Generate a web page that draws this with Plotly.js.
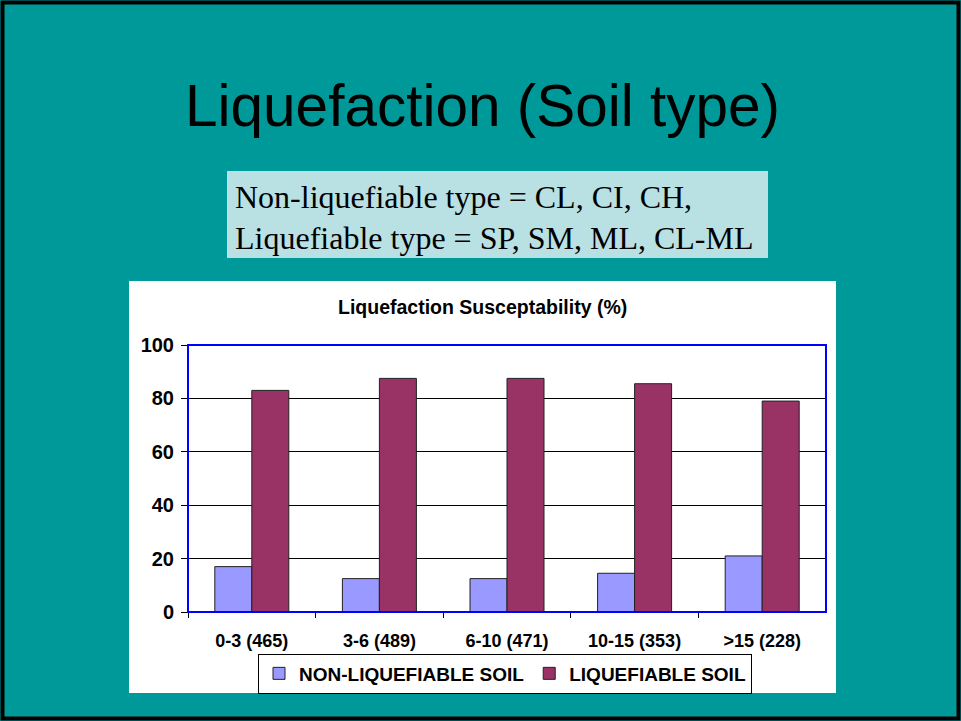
<!DOCTYPE html>
<html><head><meta charset="utf-8">
<script src="https://cdn.plot.ly/plotly-3.0.1.min.js"></script>
<style>html,body{margin:0;padding:0;background:#009999;}#c{width:961px;height:721px;}</style>
</head><body><div id="c"></div>
<script>
const categories = ["0-3 (465)", "3-6 (489)", "6-10 (471)", "10-15 (353)", ">15 (228)"];
const nonLiquefiable = [17, 12.5, 12.5, 14.5, 21];
const liquefiable = [83, 87.5, 87.5, 85.5, 79];
const yTicks = [0, 20, 40, 60, 80, 100];

const W = 961, H = 721;
const px = x => x / W, py = y => 1 - y / H;
const b = s => "<b>" + s + "</b>";

const traces = [
  {type: "bar", name: b("NON-LIQUEFIABLE SOIL"), x: categories, y: nonLiquefiable,
   marker: {color: "#9999FF", line: {color: "#222", width: 1}}},
  {type: "bar", name: b("LIQUEFIABLE SOIL"), x: categories, y: liquefiable,
   marker: {color: "#993366", line: {color: "#222", width: 1}}}
];

const layout = {
  width: W, height: H, margin: {l: 0, r: 0, t: 0, b: 0},
  paper_bgcolor: "#009999", plot_bgcolor: "#C0C0C0",
  font: {family: "Liberation Sans, Arial, sans-serif", color: "#000"},
  barmode: "group", bargap: 0.42, bargroupgap: 0,
  showlegend: true,
  legend: {orientation: "h", x: px(505), xanchor: "center", y: py(673.5), yanchor: "middle",
    bgcolor: "#FFFFFF", bordercolor: "#000", borderwidth: 1,
    font: {size: 19, family: "Liberation Sans, Arial, sans-serif"},
    itemwidth: 30, tracegroupgap: 0},
  xaxis: {domain: [px(188), px(826)], anchor: "y", type: "category",
    tickvals: categories, ticktext: categories.map(b),
    tickson: "boundaries", ticks: "outside", ticklen: 5, tickcolor: "#000",
    showline: false, showgrid: false, zeroline: false,
    tickfont: {size: 18}, ticklabelstandoff: 16},
  yaxis: {domain: [py(612), py(345)], anchor: "x", range: [0, 100],
    tickvals: yTicks, ticktext: yTicks.map(v => b(String(v))), ticks: "outside", ticklen: 6, tickcolor: "#000",
    showgrid: true, gridcolor: "#000", gridwidth: 1, zeroline: false, showline: false,
    tickfont: {size: 20}, ticklabelstandoff: 3},
  shapes: [
    {type: "rect", xref: "paper", yref: "paper", x0: px(2.5), x1: px(958.5), y0: py(718.5), y1: py(2.5),
     line: {color: "#000", width: 4}, fillcolor: "rgba(0,0,0,0)", layer: "below"},
    {type: "rect", xref: "paper", yref: "paper", x0: px(227), x1: px(768), y0: py(258), y1: py(171),
     line: {width: 0}, fillcolor: "#B9E0E3", layer: "below"},
    {type: "rect", xref: "paper", yref: "paper", x0: px(129), x1: px(836), y0: py(693), y1: py(281),
     line: {width: 0}, fillcolor: "#FFFFFF", layer: "below"},
    {type: "rect", xref: "paper", yref: "paper", x0: px(188), x1: px(826), y0: py(612), y1: py(345),
     line: {color: "#0000FF", width: 2}, fillcolor: "rgba(0,0,0,0)", layer: "above"}
  ],
  annotations: [
    {text: "Liquefaction (Soil type)", xref: "paper", yref: "paper", x: px(482.5), y: py(106),
     xanchor: "center", yanchor: "middle", showarrow: false,
     font: {size: 58.5, family: "Liberation Sans, Arial, sans-serif", color: "#000"}},
    {text: "Non-liquefiable type = CL, CI, CH,", xref: "paper", yref: "paper", x: px(233), y: py(197),
     xanchor: "left", yanchor: "middle", showarrow: false,
     font: {size: 32, family: "Liberation Serif, Times New Roman, serif", color: "#000"}},
    {text: "Liquefiable type = SP, SM, ML, CL-ML", xref: "paper", yref: "paper", x: px(233), y: py(238),
     xanchor: "left", yanchor: "middle", showarrow: false,
     font: {size: 32, family: "Liberation Serif, Times New Roman, serif", color: "#000"}},
    {text: b("Liquefaction Susceptability (%)"), xref: "paper", yref: "paper", x: px(482.5), y: py(307),
     xanchor: "center", yanchor: "middle", showarrow: false,
     font: {size: 19.5, family: "Liberation Sans, Arial, sans-serif", color: "#000"}}
  ]
};

Plotly.newPlot("c", traces, layout, {displayModeBar: false, staticPlot: true});
</script></body></html>
